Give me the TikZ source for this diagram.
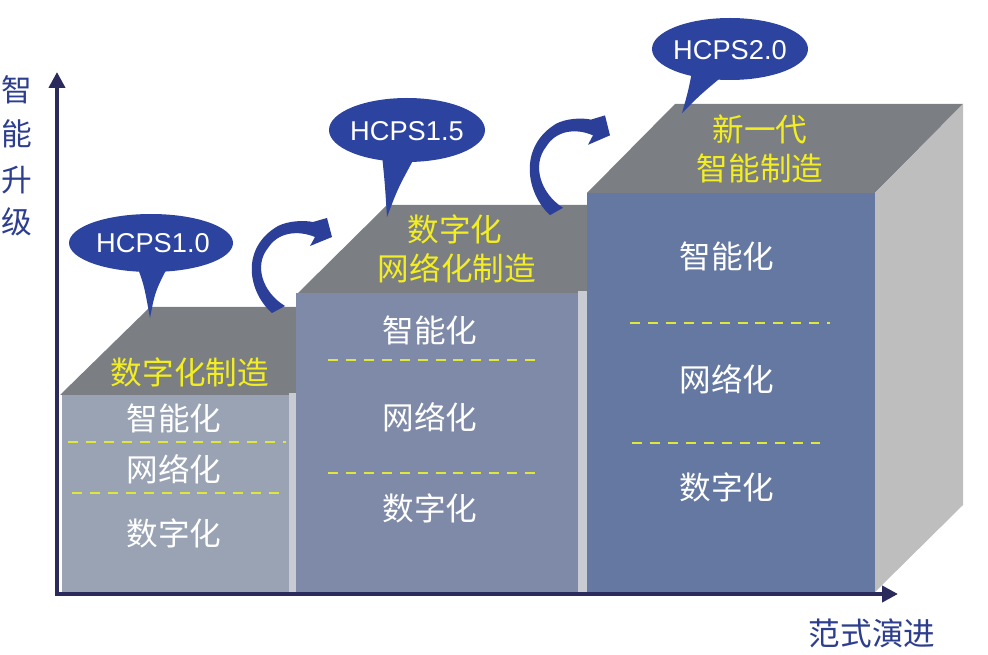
\documentclass[tikz,border=0pt]{standalone}
\usepackage{fontspec}
\newfontfamily\cjk{Noto Sans CJK SC}
\newfontfamily\hfont{Liberation Sans}
\usetikzlibrary{arrows.meta}
\definecolor{topgray}{RGB}{123,126,131}
\definecolor{frontA}{RGB}{153,163,180}
\definecolor{frontB}{RGB}{126,138,167}
\definecolor{frontC}{RGB}{100,120,161}
\definecolor{sidegray}{RGB}{190,190,190}
\definecolor{stripgray}{RGB}{200,204,210}
\definecolor{bubble}{RGB}{44,68,160}
\definecolor{arrowblue}{RGB}{43,62,152}
\definecolor{axisnavy}{RGB}{42,43,92}
\definecolor{labelblue}{RGB}{45,62,142}
\definecolor{ytext}{RGB}{242,238,34}
\definecolor{ydash}{RGB}{223,232,58}
\tikzset{
  wtext/.style={text=white, font=\cjk\fontsize{18}{22}\selectfont, inner sep=0pt},
  ytextstyle/.style={text=ytext, font=\cjk\fontsize{18}{22}\selectfont, inner sep=0pt},
  axlabel/.style={text=labelblue, font=\cjk\fontsize{17.5}{22}\selectfont, inner sep=0pt},
  hcps/.style={text=white, font=\hfont\fontsize{15.5}{18}\selectfont, inner sep=0pt},
  ydashed/.style={draw=ydash, line width=1.7pt, dash pattern=on 5.7pt off 4.5pt},
  axisline/.style={draw=axisnavy, line width=2.3pt, -{Triangle[length=9pt,width=9pt]}},
}
\begin{document}
\begin{tikzpicture}[x=0.02cm, y=-0.02cm]
\useasboundingbox (0,0) rectangle (988,655);

% ---- box 1
\fill[topgray] (60,395) -- (150,307) -- (296,307) -- (296,395) -- cycle;
\fill[frontA] (62,395) rectangle (292,592);
\fill[stripgray] (289,393) rectangle (296,592);
% ---- box 2
\fill[topgray] (296,295) -- (387,205) -- (587,205) -- (587,295) -- cycle;
\fill[frontB] (296,293) rectangle (580,592);
\fill[stripgray] (578,291) rectangle (587,592);
% ---- box 3
\fill[topgray] (587,193) -- (675,104) -- (963,104) -- (875,193) -- cycle;
\fill[sidegray] (875,193) -- (963,104) -- (963,505) -- (875,592) -- cycle;
\fill[frontC] (587,193) rectangle (875,592);

% ---- axes
\coordinate (O) at (57,594);
\coordinate (ytop) at (57,72);
\coordinate (xend) at (898,594);
\draw[axisline] ([yshift=-1pt]O) -- (ytop);
\draw[axisline] ([xshift=-1pt]O) -- (xend);

\node[axlabel] (l1) at (17,90) {智};
\node[axlabel] (l2) at (17,134) {能};
\node[axlabel] (l3) at (17,180) {升};
\node[axlabel] (l4) at (17,222) {级};
\node[axlabel, font=\cjk\fontsize{18}{22}\selectfont] (xl) at (872,633) {范式演进};

% ---- dashed separators
\draw[ydashed] (68,442) -- (286,442);
\draw[ydashed] (72,493) -- (280,493);
\draw[ydashed] (328,360) -- (536,360);
\draw[ydashed] (328,473) -- (538,473);
\draw[ydashed] (630,323) -- (830,323);
\draw[ydashed] (632,443) -- (820,443);

% ---- texts box 1
\node[ytextstyle] (t1) at (190,372) {数字化制造};
\node[wtext] (a1) at (174,418) {智能化};
\node[wtext] (a2) at (174,469) {网络化};
\node[wtext] (a3) at (174,533) {数字化};
% ---- texts box 2
\node[ytextstyle] (t2a) at (455,229) {数字化};
\node[ytextstyle] (t2b) at (457,268) {网络化制造};
\node[wtext] (b1) at (430,330) {智能化};
\node[wtext] (b2) at (430,417) {网络化};
\node[wtext] (b3) at (430,508) {数字化};
% ---- texts box 3
\node[ytextstyle] (t3a) at (760,129) {新一代};
\node[ytextstyle] (t3b) at (760,168) {智能制造};
\node[wtext] (c1) at (727,256) {智能化};
\node[wtext] (c2) at (727,379) {网络化};
\node[wtext] (c3) at (727,487) {数字化};

% ---- speech bubbles
\fill[bubble] (137,266) .. controls (144,285) .. (150,318) .. controls (155,292) .. (168,266) -- cycle;
\fill[bubble] (151,243) ellipse [x radius=82, y radius=29];
\node[hcps] (h1) at (153,243) {HCPS1.0};

\fill[bubble] (382,155) .. controls (385,185) .. (387,217) .. controls (398,188) .. (416,155) -- cycle;
\fill[bubble] (407,130) ellipse [x radius=78, y radius=32];
\node[hcps] (h2) at (407,131) {HCPS1.5};

\fill[bubble] (692,72) .. controls (688,92) .. (682,113) .. controls (700,95) .. (725,74) -- cycle;
\fill[bubble] (730,49) ellipse [x radius=78, y radius=31];
\node[hcps] (h3) at (730,50) {HCPS2.0};

% ---- curved arrows
\foreach \sx/\sy/\sc in {278/310/1.0, 556/212/1.05}{
\begin{scope}[shift={(\sx,\sy)}, yscale=\sc]
\fill[arrowblue] (-6,3) .. controls (-30,-18) and (-38,-62) .. (0,-84)
   .. controls (10,-89) and (25,-90) .. (35,-88)
   -- (49,-92) -- (54,-73) -- (32,-64) -- (37,-73)
   .. controls (20,-80) and (0,-78) .. (-10,-62)
   .. controls (-24,-45) and (-16,-18) .. (7,-4) -- cycle;
\end{scope}
}
\end{tikzpicture}
\end{document}
